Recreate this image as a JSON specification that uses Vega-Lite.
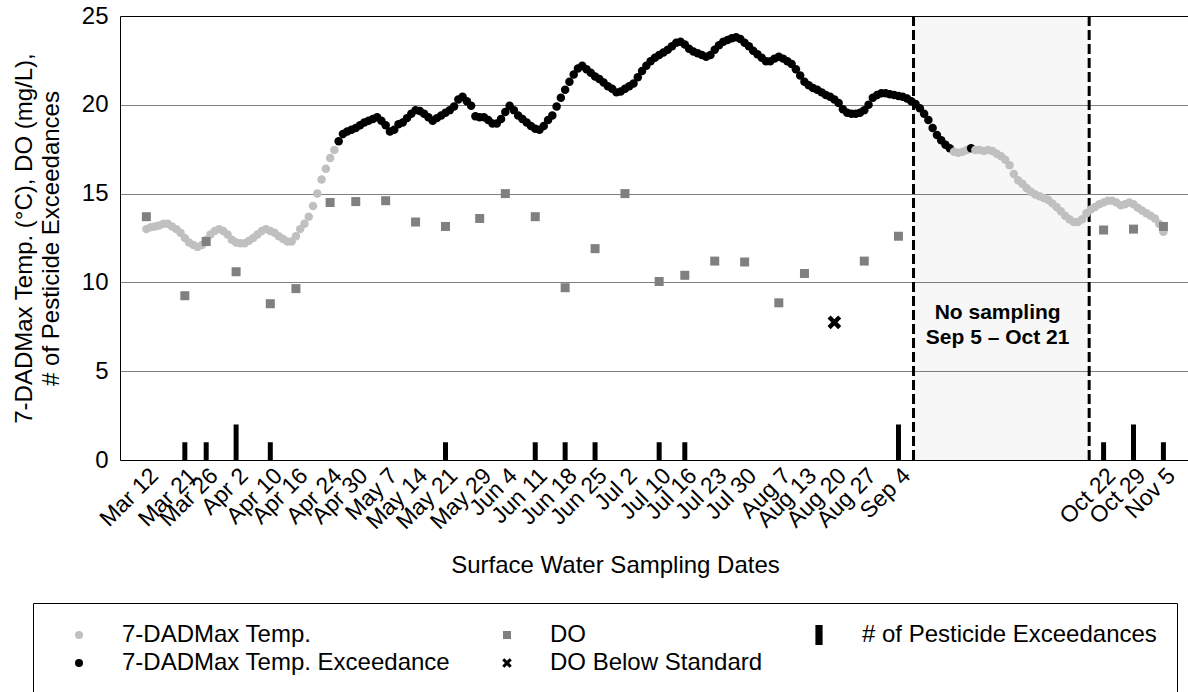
{
  "$schema": "https://vega.github.io/schema/vega-lite/v6.json",
  "width": 1068,
  "height": 444,
  "autosize": {"type": "none"},
  "padding": {"left": 120, "top": 16, "right": 0, "bottom": 232},
  "background": "white",
  "config": {"font": "Liberation Sans", "view": {"stroke": null}},
  "datasets": {
    "temp": [
      {"date": "2019-03-12", "value": 13.0, "series": "7-DADMax Temp."},
      {"date": "2019-03-13", "value": 13.1, "series": "7-DADMax Temp."},
      {"date": "2019-03-14", "value": 13.15, "series": "7-DADMax Temp."},
      {"date": "2019-03-15", "value": 13.2, "series": "7-DADMax Temp."},
      {"date": "2019-03-16", "value": 13.3, "series": "7-DADMax Temp."},
      {"date": "2019-03-17", "value": 13.3, "series": "7-DADMax Temp."},
      {"date": "2019-03-18", "value": 13.15, "series": "7-DADMax Temp."},
      {"date": "2019-03-19", "value": 13.0, "series": "7-DADMax Temp."},
      {"date": "2019-03-20", "value": 12.8, "series": "7-DADMax Temp."},
      {"date": "2019-03-21", "value": 12.5, "series": "7-DADMax Temp."},
      {"date": "2019-03-22", "value": 12.25, "series": "7-DADMax Temp."},
      {"date": "2019-03-23", "value": 12.1, "series": "7-DADMax Temp."},
      {"date": "2019-03-24", "value": 12.0, "series": "7-DADMax Temp."},
      {"date": "2019-03-25", "value": 12.1, "series": "7-DADMax Temp."},
      {"date": "2019-03-26", "value": 12.4, "series": "7-DADMax Temp."},
      {"date": "2019-03-27", "value": 12.7, "series": "7-DADMax Temp."},
      {"date": "2019-03-28", "value": 12.9, "series": "7-DADMax Temp."},
      {"date": "2019-03-29", "value": 13.0, "series": "7-DADMax Temp."},
      {"date": "2019-03-30", "value": 12.9, "series": "7-DADMax Temp."},
      {"date": "2019-03-31", "value": 12.7, "series": "7-DADMax Temp."},
      {"date": "2019-04-01", "value": 12.4, "series": "7-DADMax Temp."},
      {"date": "2019-04-02", "value": 12.25, "series": "7-DADMax Temp."},
      {"date": "2019-04-03", "value": 12.2, "series": "7-DADMax Temp."},
      {"date": "2019-04-04", "value": 12.2, "series": "7-DADMax Temp."},
      {"date": "2019-04-05", "value": 12.35, "series": "7-DADMax Temp."},
      {"date": "2019-04-06", "value": 12.5, "series": "7-DADMax Temp."},
      {"date": "2019-04-07", "value": 12.7, "series": "7-DADMax Temp."},
      {"date": "2019-04-08", "value": 12.9, "series": "7-DADMax Temp."},
      {"date": "2019-04-09", "value": 13.0, "series": "7-DADMax Temp."},
      {"date": "2019-04-10", "value": 12.9, "series": "7-DADMax Temp."},
      {"date": "2019-04-11", "value": 12.8, "series": "7-DADMax Temp."},
      {"date": "2019-04-12", "value": 12.6, "series": "7-DADMax Temp."},
      {"date": "2019-04-13", "value": 12.45, "series": "7-DADMax Temp."},
      {"date": "2019-04-14", "value": 12.3, "series": "7-DADMax Temp."},
      {"date": "2019-04-15", "value": 12.3, "series": "7-DADMax Temp."},
      {"date": "2019-04-16", "value": 12.6, "series": "7-DADMax Temp."},
      {"date": "2019-04-17", "value": 13.0, "series": "7-DADMax Temp."},
      {"date": "2019-04-18", "value": 13.3, "series": "7-DADMax Temp."},
      {"date": "2019-04-19", "value": 13.7, "series": "7-DADMax Temp."},
      {"date": "2019-04-20", "value": 14.3, "series": "7-DADMax Temp."},
      {"date": "2019-04-21", "value": 15.0, "series": "7-DADMax Temp."},
      {"date": "2019-04-22", "value": 15.8, "series": "7-DADMax Temp."},
      {"date": "2019-04-23", "value": 16.4, "series": "7-DADMax Temp."},
      {"date": "2019-04-24", "value": 17.0, "series": "7-DADMax Temp."},
      {"date": "2019-04-25", "value": 17.45, "series": "7-DADMax Temp."},
      {"date": "2019-04-26", "value": 17.95, "series": "7-DADMax Temp. Exceedance"},
      {"date": "2019-04-27", "value": 18.35, "series": "7-DADMax Temp. Exceedance"},
      {"date": "2019-04-28", "value": 18.5, "series": "7-DADMax Temp. Exceedance"},
      {"date": "2019-04-29", "value": 18.6, "series": "7-DADMax Temp. Exceedance"},
      {"date": "2019-04-30", "value": 18.7, "series": "7-DADMax Temp. Exceedance"},
      {"date": "2019-05-01", "value": 18.85, "series": "7-DADMax Temp. Exceedance"},
      {"date": "2019-05-02", "value": 19.0, "series": "7-DADMax Temp. Exceedance"},
      {"date": "2019-05-03", "value": 19.1, "series": "7-DADMax Temp. Exceedance"},
      {"date": "2019-05-04", "value": 19.2, "series": "7-DADMax Temp. Exceedance"},
      {"date": "2019-05-05", "value": 19.3, "series": "7-DADMax Temp. Exceedance"},
      {"date": "2019-05-06", "value": 19.1, "series": "7-DADMax Temp. Exceedance"},
      {"date": "2019-05-07", "value": 18.85, "series": "7-DADMax Temp. Exceedance"},
      {"date": "2019-05-08", "value": 18.5, "series": "7-DADMax Temp. Exceedance"},
      {"date": "2019-05-09", "value": 18.6, "series": "7-DADMax Temp. Exceedance"},
      {"date": "2019-05-10", "value": 18.9, "series": "7-DADMax Temp. Exceedance"},
      {"date": "2019-05-11", "value": 19.0, "series": "7-DADMax Temp. Exceedance"},
      {"date": "2019-05-12", "value": 19.25, "series": "7-DADMax Temp. Exceedance"},
      {"date": "2019-05-13", "value": 19.5, "series": "7-DADMax Temp. Exceedance"},
      {"date": "2019-05-14", "value": 19.7, "series": "7-DADMax Temp. Exceedance"},
      {"date": "2019-05-15", "value": 19.65, "series": "7-DADMax Temp. Exceedance"},
      {"date": "2019-05-16", "value": 19.5, "series": "7-DADMax Temp. Exceedance"},
      {"date": "2019-05-17", "value": 19.3, "series": "7-DADMax Temp. Exceedance"},
      {"date": "2019-05-18", "value": 19.1, "series": "7-DADMax Temp. Exceedance"},
      {"date": "2019-05-19", "value": 19.25, "series": "7-DADMax Temp. Exceedance"},
      {"date": "2019-05-20", "value": 19.4, "series": "7-DADMax Temp. Exceedance"},
      {"date": "2019-05-21", "value": 19.55, "series": "7-DADMax Temp. Exceedance"},
      {"date": "2019-05-22", "value": 19.7, "series": "7-DADMax Temp. Exceedance"},
      {"date": "2019-05-23", "value": 19.9, "series": "7-DADMax Temp. Exceedance"},
      {"date": "2019-05-24", "value": 20.3, "series": "7-DADMax Temp. Exceedance"},
      {"date": "2019-05-25", "value": 20.45, "series": "7-DADMax Temp. Exceedance"},
      {"date": "2019-05-26", "value": 20.2, "series": "7-DADMax Temp. Exceedance"},
      {"date": "2019-05-27", "value": 19.95, "series": "7-DADMax Temp. Exceedance"},
      {"date": "2019-05-28", "value": 19.35, "series": "7-DADMax Temp. Exceedance"},
      {"date": "2019-05-29", "value": 19.3, "series": "7-DADMax Temp. Exceedance"},
      {"date": "2019-05-30", "value": 19.3, "series": "7-DADMax Temp. Exceedance"},
      {"date": "2019-05-31", "value": 19.15, "series": "7-DADMax Temp. Exceedance"},
      {"date": "2019-06-01", "value": 18.95, "series": "7-DADMax Temp. Exceedance"},
      {"date": "2019-06-02", "value": 18.95, "series": "7-DADMax Temp. Exceedance"},
      {"date": "2019-06-03", "value": 19.2, "series": "7-DADMax Temp. Exceedance"},
      {"date": "2019-06-04", "value": 19.6, "series": "7-DADMax Temp. Exceedance"},
      {"date": "2019-06-05", "value": 19.95, "series": "7-DADMax Temp. Exceedance"},
      {"date": "2019-06-06", "value": 19.7, "series": "7-DADMax Temp. Exceedance"},
      {"date": "2019-06-07", "value": 19.4, "series": "7-DADMax Temp. Exceedance"},
      {"date": "2019-06-08", "value": 19.2, "series": "7-DADMax Temp. Exceedance"},
      {"date": "2019-06-09", "value": 19.0, "series": "7-DADMax Temp. Exceedance"},
      {"date": "2019-06-10", "value": 18.8, "series": "7-DADMax Temp. Exceedance"},
      {"date": "2019-06-11", "value": 18.65, "series": "7-DADMax Temp. Exceedance"},
      {"date": "2019-06-12", "value": 18.6, "series": "7-DADMax Temp. Exceedance"},
      {"date": "2019-06-13", "value": 18.8, "series": "7-DADMax Temp. Exceedance"},
      {"date": "2019-06-14", "value": 19.15, "series": "7-DADMax Temp. Exceedance"},
      {"date": "2019-06-15", "value": 19.4, "series": "7-DADMax Temp. Exceedance"},
      {"date": "2019-06-16", "value": 19.9, "series": "7-DADMax Temp. Exceedance"},
      {"date": "2019-06-17", "value": 20.4, "series": "7-DADMax Temp. Exceedance"},
      {"date": "2019-06-18", "value": 20.85, "series": "7-DADMax Temp. Exceedance"},
      {"date": "2019-06-19", "value": 21.3, "series": "7-DADMax Temp. Exceedance"},
      {"date": "2019-06-20", "value": 21.7, "series": "7-DADMax Temp. Exceedance"},
      {"date": "2019-06-21", "value": 22.05, "series": "7-DADMax Temp. Exceedance"},
      {"date": "2019-06-22", "value": 22.2, "series": "7-DADMax Temp. Exceedance"},
      {"date": "2019-06-23", "value": 22.0, "series": "7-DADMax Temp. Exceedance"},
      {"date": "2019-06-24", "value": 21.8, "series": "7-DADMax Temp. Exceedance"},
      {"date": "2019-06-25", "value": 21.6, "series": "7-DADMax Temp. Exceedance"},
      {"date": "2019-06-26", "value": 21.45, "series": "7-DADMax Temp. Exceedance"},
      {"date": "2019-06-27", "value": 21.25, "series": "7-DADMax Temp. Exceedance"},
      {"date": "2019-06-28", "value": 21.05, "series": "7-DADMax Temp. Exceedance"},
      {"date": "2019-06-29", "value": 20.9, "series": "7-DADMax Temp. Exceedance"},
      {"date": "2019-06-30", "value": 20.7, "series": "7-DADMax Temp. Exceedance"},
      {"date": "2019-07-01", "value": 20.75, "series": "7-DADMax Temp. Exceedance"},
      {"date": "2019-07-02", "value": 20.9, "series": "7-DADMax Temp. Exceedance"},
      {"date": "2019-07-03", "value": 21.05, "series": "7-DADMax Temp. Exceedance"},
      {"date": "2019-07-04", "value": 21.2, "series": "7-DADMax Temp. Exceedance"},
      {"date": "2019-07-05", "value": 21.55, "series": "7-DADMax Temp. Exceedance"},
      {"date": "2019-07-06", "value": 21.9, "series": "7-DADMax Temp. Exceedance"},
      {"date": "2019-07-07", "value": 22.2, "series": "7-DADMax Temp. Exceedance"},
      {"date": "2019-07-08", "value": 22.45, "series": "7-DADMax Temp. Exceedance"},
      {"date": "2019-07-09", "value": 22.65, "series": "7-DADMax Temp. Exceedance"},
      {"date": "2019-07-10", "value": 22.8, "series": "7-DADMax Temp. Exceedance"},
      {"date": "2019-07-11", "value": 22.95, "series": "7-DADMax Temp. Exceedance"},
      {"date": "2019-07-12", "value": 23.1, "series": "7-DADMax Temp. Exceedance"},
      {"date": "2019-07-13", "value": 23.3, "series": "7-DADMax Temp. Exceedance"},
      {"date": "2019-07-14", "value": 23.5, "series": "7-DADMax Temp. Exceedance"},
      {"date": "2019-07-15", "value": 23.55, "series": "7-DADMax Temp. Exceedance"},
      {"date": "2019-07-16", "value": 23.4, "series": "7-DADMax Temp. Exceedance"},
      {"date": "2019-07-17", "value": 23.15, "series": "7-DADMax Temp. Exceedance"},
      {"date": "2019-07-18", "value": 23.0, "series": "7-DADMax Temp. Exceedance"},
      {"date": "2019-07-19", "value": 22.9, "series": "7-DADMax Temp. Exceedance"},
      {"date": "2019-07-20", "value": 22.8, "series": "7-DADMax Temp. Exceedance"},
      {"date": "2019-07-21", "value": 22.7, "series": "7-DADMax Temp. Exceedance"},
      {"date": "2019-07-22", "value": 22.8, "series": "7-DADMax Temp. Exceedance"},
      {"date": "2019-07-23", "value": 23.1, "series": "7-DADMax Temp. Exceedance"},
      {"date": "2019-07-24", "value": 23.35, "series": "7-DADMax Temp. Exceedance"},
      {"date": "2019-07-25", "value": 23.55, "series": "7-DADMax Temp. Exceedance"},
      {"date": "2019-07-26", "value": 23.65, "series": "7-DADMax Temp. Exceedance"},
      {"date": "2019-07-27", "value": 23.75, "series": "7-DADMax Temp. Exceedance"},
      {"date": "2019-07-28", "value": 23.8, "series": "7-DADMax Temp. Exceedance"},
      {"date": "2019-07-29", "value": 23.7, "series": "7-DADMax Temp. Exceedance"},
      {"date": "2019-07-30", "value": 23.5, "series": "7-DADMax Temp. Exceedance"},
      {"date": "2019-07-31", "value": 23.3, "series": "7-DADMax Temp. Exceedance"},
      {"date": "2019-08-01", "value": 23.05, "series": "7-DADMax Temp. Exceedance"},
      {"date": "2019-08-02", "value": 22.85, "series": "7-DADMax Temp. Exceedance"},
      {"date": "2019-08-03", "value": 22.65, "series": "7-DADMax Temp. Exceedance"},
      {"date": "2019-08-04", "value": 22.45, "series": "7-DADMax Temp. Exceedance"},
      {"date": "2019-08-05", "value": 22.45, "series": "7-DADMax Temp. Exceedance"},
      {"date": "2019-08-06", "value": 22.6, "series": "7-DADMax Temp. Exceedance"},
      {"date": "2019-08-07", "value": 22.7, "series": "7-DADMax Temp. Exceedance"},
      {"date": "2019-08-08", "value": 22.6, "series": "7-DADMax Temp. Exceedance"},
      {"date": "2019-08-09", "value": 22.45, "series": "7-DADMax Temp. Exceedance"},
      {"date": "2019-08-10", "value": 22.3, "series": "7-DADMax Temp. Exceedance"},
      {"date": "2019-08-11", "value": 22.0, "series": "7-DADMax Temp. Exceedance"},
      {"date": "2019-08-12", "value": 21.65, "series": "7-DADMax Temp. Exceedance"},
      {"date": "2019-08-13", "value": 21.3, "series": "7-DADMax Temp. Exceedance"},
      {"date": "2019-08-14", "value": 21.1, "series": "7-DADMax Temp. Exceedance"},
      {"date": "2019-08-15", "value": 20.95, "series": "7-DADMax Temp. Exceedance"},
      {"date": "2019-08-16", "value": 20.85, "series": "7-DADMax Temp. Exceedance"},
      {"date": "2019-08-17", "value": 20.7, "series": "7-DADMax Temp. Exceedance"},
      {"date": "2019-08-18", "value": 20.55, "series": "7-DADMax Temp. Exceedance"},
      {"date": "2019-08-19", "value": 20.45, "series": "7-DADMax Temp. Exceedance"},
      {"date": "2019-08-20", "value": 20.3, "series": "7-DADMax Temp. Exceedance"},
      {"date": "2019-08-21", "value": 20.1, "series": "7-DADMax Temp. Exceedance"},
      {"date": "2019-08-22", "value": 19.75, "series": "7-DADMax Temp. Exceedance"},
      {"date": "2019-08-23", "value": 19.55, "series": "7-DADMax Temp. Exceedance"},
      {"date": "2019-08-24", "value": 19.5, "series": "7-DADMax Temp. Exceedance"},
      {"date": "2019-08-25", "value": 19.5, "series": "7-DADMax Temp. Exceedance"},
      {"date": "2019-08-26", "value": 19.55, "series": "7-DADMax Temp. Exceedance"},
      {"date": "2019-08-27", "value": 19.7, "series": "7-DADMax Temp. Exceedance"},
      {"date": "2019-08-28", "value": 20.0, "series": "7-DADMax Temp. Exceedance"},
      {"date": "2019-08-29", "value": 20.4, "series": "7-DADMax Temp. Exceedance"},
      {"date": "2019-08-30", "value": 20.55, "series": "7-DADMax Temp. Exceedance"},
      {"date": "2019-08-31", "value": 20.65, "series": "7-DADMax Temp. Exceedance"},
      {"date": "2019-09-01", "value": 20.65, "series": "7-DADMax Temp. Exceedance"},
      {"date": "2019-09-02", "value": 20.6, "series": "7-DADMax Temp. Exceedance"},
      {"date": "2019-09-03", "value": 20.55, "series": "7-DADMax Temp. Exceedance"},
      {"date": "2019-09-04", "value": 20.5, "series": "7-DADMax Temp. Exceedance"},
      {"date": "2019-09-05", "value": 20.45, "series": "7-DADMax Temp. Exceedance"},
      {"date": "2019-09-06", "value": 20.35, "series": "7-DADMax Temp. Exceedance"},
      {"date": "2019-09-07", "value": 20.2, "series": "7-DADMax Temp. Exceedance"},
      {"date": "2019-09-08", "value": 20.05, "series": "7-DADMax Temp. Exceedance"},
      {"date": "2019-09-09", "value": 19.8, "series": "7-DADMax Temp. Exceedance"},
      {"date": "2019-09-10", "value": 19.5, "series": "7-DADMax Temp. Exceedance"},
      {"date": "2019-09-11", "value": 19.15, "series": "7-DADMax Temp. Exceedance"},
      {"date": "2019-09-12", "value": 18.7, "series": "7-DADMax Temp. Exceedance"},
      {"date": "2019-09-13", "value": 18.3, "series": "7-DADMax Temp. Exceedance"},
      {"date": "2019-09-14", "value": 18.0, "series": "7-DADMax Temp. Exceedance"},
      {"date": "2019-09-15", "value": 17.75, "series": "7-DADMax Temp. Exceedance"},
      {"date": "2019-09-16", "value": 17.55, "series": "7-DADMax Temp. Exceedance"},
      {"date": "2019-09-17", "value": 17.35, "series": "7-DADMax Temp."},
      {"date": "2019-09-18", "value": 17.3, "series": "7-DADMax Temp."},
      {"date": "2019-09-19", "value": 17.35, "series": "7-DADMax Temp."},
      {"date": "2019-09-20", "value": 17.45, "series": "7-DADMax Temp."},
      {"date": "2019-09-21", "value": 17.55, "series": "7-DADMax Temp. Exceedance"},
      {"date": "2019-09-22", "value": 17.45, "series": "7-DADMax Temp."},
      {"date": "2019-09-23", "value": 17.45, "series": "7-DADMax Temp."},
      {"date": "2019-09-24", "value": 17.4, "series": "7-DADMax Temp."},
      {"date": "2019-09-25", "value": 17.45, "series": "7-DADMax Temp."},
      {"date": "2019-09-26", "value": 17.4, "series": "7-DADMax Temp."},
      {"date": "2019-09-27", "value": 17.25, "series": "7-DADMax Temp."},
      {"date": "2019-09-28", "value": 17.1, "series": "7-DADMax Temp."},
      {"date": "2019-09-29", "value": 16.9, "series": "7-DADMax Temp."},
      {"date": "2019-09-30", "value": 16.6, "series": "7-DADMax Temp."},
      {"date": "2019-10-01", "value": 16.1, "series": "7-DADMax Temp."},
      {"date": "2019-10-02", "value": 15.75, "series": "7-DADMax Temp."},
      {"date": "2019-10-03", "value": 15.55, "series": "7-DADMax Temp."},
      {"date": "2019-10-04", "value": 15.3, "series": "7-DADMax Temp."},
      {"date": "2019-10-05", "value": 15.1, "series": "7-DADMax Temp."},
      {"date": "2019-10-06", "value": 14.95, "series": "7-DADMax Temp."},
      {"date": "2019-10-07", "value": 14.85, "series": "7-DADMax Temp."},
      {"date": "2019-10-08", "value": 14.75, "series": "7-DADMax Temp."},
      {"date": "2019-10-09", "value": 14.65, "series": "7-DADMax Temp."},
      {"date": "2019-10-10", "value": 14.45, "series": "7-DADMax Temp."},
      {"date": "2019-10-11", "value": 14.25, "series": "7-DADMax Temp."},
      {"date": "2019-10-12", "value": 14.0, "series": "7-DADMax Temp."},
      {"date": "2019-10-13", "value": 13.75, "series": "7-DADMax Temp."},
      {"date": "2019-10-14", "value": 13.55, "series": "7-DADMax Temp."},
      {"date": "2019-10-15", "value": 13.4, "series": "7-DADMax Temp."},
      {"date": "2019-10-16", "value": 13.4, "series": "7-DADMax Temp."},
      {"date": "2019-10-17", "value": 13.55, "series": "7-DADMax Temp."},
      {"date": "2019-10-18", "value": 13.9, "series": "7-DADMax Temp."},
      {"date": "2019-10-19", "value": 14.1, "series": "7-DADMax Temp."},
      {"date": "2019-10-20", "value": 14.25, "series": "7-DADMax Temp."},
      {"date": "2019-10-21", "value": 14.4, "series": "7-DADMax Temp."},
      {"date": "2019-10-22", "value": 14.5, "series": "7-DADMax Temp."},
      {"date": "2019-10-23", "value": 14.6, "series": "7-DADMax Temp."},
      {"date": "2019-10-24", "value": 14.6, "series": "7-DADMax Temp."},
      {"date": "2019-10-25", "value": 14.5, "series": "7-DADMax Temp."},
      {"date": "2019-10-26", "value": 14.35, "series": "7-DADMax Temp."},
      {"date": "2019-10-27", "value": 14.4, "series": "7-DADMax Temp."},
      {"date": "2019-10-28", "value": 14.5, "series": "7-DADMax Temp."},
      {"date": "2019-10-29", "value": 14.4, "series": "7-DADMax Temp."},
      {"date": "2019-10-30", "value": 14.2, "series": "7-DADMax Temp."},
      {"date": "2019-10-31", "value": 14.05, "series": "7-DADMax Temp."},
      {"date": "2019-11-01", "value": 13.9, "series": "7-DADMax Temp."},
      {"date": "2019-11-02", "value": 13.75, "series": "7-DADMax Temp."},
      {"date": "2019-11-03", "value": 13.6, "series": "7-DADMax Temp."},
      {"date": "2019-11-04", "value": 13.3, "series": "7-DADMax Temp."},
      {"date": "2019-11-05", "value": 12.85, "series": "7-DADMax Temp."}
    ],
    "do": [
      {"date": "2019-03-12", "value": 13.7, "series": "DO"},
      {"date": "2019-03-21", "value": 9.25, "series": "DO"},
      {"date": "2019-03-26", "value": 12.3, "series": "DO"},
      {"date": "2019-04-02", "value": 10.6, "series": "DO"},
      {"date": "2019-04-10", "value": 8.8, "series": "DO"},
      {"date": "2019-04-16", "value": 9.65, "series": "DO"},
      {"date": "2019-04-24", "value": 14.5, "series": "DO"},
      {"date": "2019-04-30", "value": 14.55, "series": "DO"},
      {"date": "2019-05-07", "value": 14.6, "series": "DO"},
      {"date": "2019-05-14", "value": 13.4, "series": "DO"},
      {"date": "2019-05-21", "value": 13.15, "series": "DO"},
      {"date": "2019-05-29", "value": 13.6, "series": "DO"},
      {"date": "2019-06-04", "value": 15.0, "series": "DO"},
      {"date": "2019-06-11", "value": 13.7, "series": "DO"},
      {"date": "2019-06-18", "value": 9.7, "series": "DO"},
      {"date": "2019-06-25", "value": 11.9, "series": "DO"},
      {"date": "2019-07-02", "value": 15.0, "series": "DO"},
      {"date": "2019-07-10", "value": 10.05, "series": "DO"},
      {"date": "2019-07-16", "value": 10.4, "series": "DO"},
      {"date": "2019-07-23", "value": 11.2, "series": "DO"},
      {"date": "2019-07-30", "value": 11.15, "series": "DO"},
      {"date": "2019-08-07", "value": 8.85, "series": "DO"},
      {"date": "2019-08-13", "value": 10.5, "series": "DO"},
      {"date": "2019-08-20", "value": 7.75, "series": "DO Below Standard"},
      {"date": "2019-08-27", "value": 11.2, "series": "DO"},
      {"date": "2019-09-04", "value": 12.6, "series": "DO"},
      {"date": "2019-10-22", "value": 12.95, "series": "DO"},
      {"date": "2019-10-29", "value": 13.0, "series": "DO"},
      {"date": "2019-11-05", "value": 13.15, "series": "DO"}
    ],
    "pest": [
      {"date": "2019-03-21", "value": 1, "series": "# of Pesticide Exceedances"},
      {"date": "2019-03-26", "value": 1, "series": "# of Pesticide Exceedances"},
      {"date": "2019-04-02", "value": 2, "series": "# of Pesticide Exceedances"},
      {"date": "2019-04-10", "value": 1, "series": "# of Pesticide Exceedances"},
      {"date": "2019-05-21", "value": 1, "series": "# of Pesticide Exceedances"},
      {"date": "2019-06-11", "value": 1, "series": "# of Pesticide Exceedances"},
      {"date": "2019-06-18", "value": 1, "series": "# of Pesticide Exceedances"},
      {"date": "2019-06-25", "value": 1, "series": "# of Pesticide Exceedances"},
      {"date": "2019-07-10", "value": 1, "series": "# of Pesticide Exceedances"},
      {"date": "2019-07-16", "value": 1, "series": "# of Pesticide Exceedances"},
      {"date": "2019-09-04", "value": 2, "series": "# of Pesticide Exceedances"},
      {"date": "2019-10-22", "value": 1, "series": "# of Pesticide Exceedances"},
      {"date": "2019-10-29", "value": 2, "series": "# of Pesticide Exceedances"},
      {"date": "2019-11-05", "value": 1, "series": "# of Pesticide Exceedances"}
    ],
    "gap": [
      {"start": "2019-09-07T12:30:00Z", "end": "2019-10-18T15:00:00Z"}
    ],
    "note": [
      {"date": "2019-09-27T05:00:00Z", "value": 8.25, "label": "No sampling\nSep 5 – Oct 21"}
    ]
  },
  "layer": [
    {
      "data": {"name": "gap"},
      "mark": {"type": "rect", "fill": "#000000", "fillOpacity": 0.03},
      "encoding": {
        "x": {
          "field": "start", "type": "temporal",
          "scale": {"type": "utc", "domain": [{"year": 2019, "month": 3, "date": 7, "utc": true}, {"year": 2019, "month": 11, "date": 9, "hours": 14, "utc": true}]},
          "axis": {
            "values": [
              {"year": 2019, "month": 3, "date": 12, "utc": true},
              {"year": 2019, "month": 3, "date": 21, "utc": true},
              {"year": 2019, "month": 3, "date": 26, "utc": true},
              {"year": 2019, "month": 4, "date": 2, "utc": true},
              {"year": 2019, "month": 4, "date": 10, "utc": true},
              {"year": 2019, "month": 4, "date": 16, "utc": true},
              {"year": 2019, "month": 4, "date": 24, "utc": true},
              {"year": 2019, "month": 4, "date": 30, "utc": true},
              {"year": 2019, "month": 5, "date": 7, "utc": true},
              {"year": 2019, "month": 5, "date": 14, "utc": true},
              {"year": 2019, "month": 5, "date": 21, "utc": true},
              {"year": 2019, "month": 5, "date": 29, "utc": true},
              {"year": 2019, "month": 6, "date": 4, "utc": true},
              {"year": 2019, "month": 6, "date": 11, "utc": true},
              {"year": 2019, "month": 6, "date": 18, "utc": true},
              {"year": 2019, "month": 6, "date": 25, "utc": true},
              {"year": 2019, "month": 7, "date": 2, "utc": true},
              {"year": 2019, "month": 7, "date": 10, "utc": true},
              {"year": 2019, "month": 7, "date": 16, "utc": true},
              {"year": 2019, "month": 7, "date": 23, "utc": true},
              {"year": 2019, "month": 7, "date": 30, "utc": true},
              {"year": 2019, "month": 8, "date": 7, "utc": true},
              {"year": 2019, "month": 8, "date": 13, "utc": true},
              {"year": 2019, "month": 8, "date": 20, "utc": true},
              {"year": 2019, "month": 8, "date": 27, "utc": true},
              {"year": 2019, "month": 9, "date": 4, "utc": true},
              {"year": 2019, "month": 10, "date": 22, "utc": true},
              {"year": 2019, "month": 10, "date": 29, "utc": true},
              {"year": 2019, "month": 11, "date": 5, "utc": true}
            ],
            "tickCount": 200,
            "format": "%b %-d",
            "labelAngle": -45,
            "labelFontSize": 23,
            "labelColor": "black",
            "labelOverlap": false,
            "labelBound": false,
            "labelFlush": false,
            "labelPadding": 4,
            "ticks": false,
            "tickSize": 0,
            "grid": false,
            "domainColor": "black",
            "domainWidth": 1,
            "title": "Surface Water Sampling Dates",
            "titleFontSize": 24,
            "titleFontWeight": "normal",
            "titleColor": "black",
            "titleX": 495,
            "titleY": 93,
            "titleAlign": "center",
            "titleBaseline": "top"
          }
        },
        "x2": {"field": "end"}
      }
    },
    {
      "data": {"name": "gap"},
      "mark": {"type": "rule", "color": "black", "strokeWidth": 3, "strokeDash": [10, 4]},
      "encoding": {"x": {"field": "start", "type": "temporal"}}
    },
    {
      "data": {"name": "gap"},
      "mark": {"type": "rule", "color": "black", "strokeWidth": 3, "strokeDash": [10, 4]},
      "encoding": {"x": {"field": "end", "type": "temporal"}}
    },
    {
      "encoding": {
        "color": {
          "field": "series", "type": "nominal",
          "scale": {
            "domain": ["7-DADMax Temp.", "DO", "# of Pesticide Exceedances", "7-DADMax Temp. Exceedance", "DO Below Standard"],
            "range": ["#c0c0c0", "#808080", "#000000", "#000000", "#000000"]
          },
          "legend": {
            "orient": "none", "legendX": -87, "legendY": 587,
            "columns": 3, "direction": "horizontal", "title": null,
            "labelFontSize": 24, "labelColor": "black", "labelLimit": 600,
            "labelExpr": "datum.label === '# of Pesticide Exceedances' ? datum.label + '\u00a0\u00a0\u00a0\u00a0' : datum.label",
            "symbolSize": 64, "symbolStrokeWidth": 0, "symbolOffset": 14, "labelOffset": 31,
            "columnPadding": 30, "rowPadding": 4, "padding": 20,
            "strokeColor": "black", "fillColor": "white"
          }
        },
        "shape": {
          "field": "series", "type": "nominal",
          "scale": {
            "domain": ["7-DADMax Temp.", "DO", "# of Pesticide Exceedances", "7-DADMax Temp. Exceedance", "DO Below Standard"],
            "range": ["circle", "square", "M-0.9,-2.5L0.9,-2.5L0.9,2.5L-0.9,2.5Z", "circle", "M-1.2,-0.66L-0.66,-1.2L0,-0.54L0.66,-1.2L1.2,-0.66L0.54,0L1.2,0.66L0.66,1.2L0,0.54L-0.66,1.2L-1.2,0.66L-0.54,0Z"]
          },
          "legend": {
            "orient": "none", "legendX": -87, "legendY": 587,
            "columns": 3, "direction": "horizontal", "title": null,
            "labelFontSize": 24, "labelColor": "black", "labelLimit": 600,
            "labelExpr": "datum.label === '# of Pesticide Exceedances' ? datum.label + '\u00a0\u00a0\u00a0\u00a0' : datum.label",
            "symbolSize": 64, "symbolStrokeWidth": 0, "symbolOffset": 14, "labelOffset": 31,
            "columnPadding": 30, "rowPadding": 4, "padding": 20,
            "strokeColor": "black", "fillColor": "white"
          }
        }
      },
      "layer": [
        {
          "data": {"name": "pest"},
          "mark": {"type": "bar", "width": 5, "opacity": 1},
          "encoding": {
            "x": {"field": "date", "type": "temporal"},
            "y": {"field": "value", "type": "quantitative"}
          }
        },
        {
          "data": {"name": "temp"},
          "mark": {"type": "point", "filled": true, "size": 72, "opacity": 1, "strokeWidth": 0},
          "encoding": {
            "x": {"field": "date", "type": "temporal"},
            "y": {
              "field": "value", "type": "quantitative",
              "scale": {"domain": [0, 25], "nice": false},
              "axis": {
                "values": [0, 5, 10, 15, 20, 25],
                "grid": true,
                "gridColor": {"condition": {"test": "datum.value === 25", "value": "black"}, "value": "#808080"},
                "gridWidth": 1,
                "domainColor": "black",
                "ticks": false,
                "tickSize": 0,
                "labelFontSize": 24,
                "labelColor": "black",
                "labelPadding": 12,
                "title": ["7-DADMax Temp. (°C), DO (mg/L),", "# of Pesticide Exceedances"],
                "titleFontSize": 24,
                "titleFontWeight": "normal",
                "titleColor": "black",
                "titleLineHeight": 27,
                "titlePadding": 18
              }
            }
          }
        },
        {
          "data": {"name": "do"},
          "transform": [{"filter": "datum.series === 'DO'"}],
          "mark": {"type": "point", "filled": true, "size": 81, "opacity": 1, "strokeWidth": 0},
          "encoding": {
            "x": {"field": "date", "type": "temporal"},
            "y": {"field": "value", "type": "quantitative"}
          }
        },
        {
          "data": {"name": "do"},
          "transform": [{"filter": "datum.series === 'DO Below Standard'"}],
          "mark": {"type": "point", "filled": true, "size": 130, "opacity": 1, "strokeWidth": 0},
          "encoding": {
            "x": {"field": "date", "type": "temporal"},
            "y": {"field": "value", "type": "quantitative"}
          }
        }
      ]
    },
    {
      "data": {"name": "note"},
      "mark": {"type": "text", "fontSize": 21, "fontWeight": "bold", "color": "black", "align": "center", "baseline": "middle", "lineBreak": "\n", "lineHeight": 25},
      "encoding": {
        "x": {"field": "date", "type": "temporal"},
        "y": {"field": "value", "type": "quantitative"},
        "text": {"field": "label"}
      }
    }
  ]
}
